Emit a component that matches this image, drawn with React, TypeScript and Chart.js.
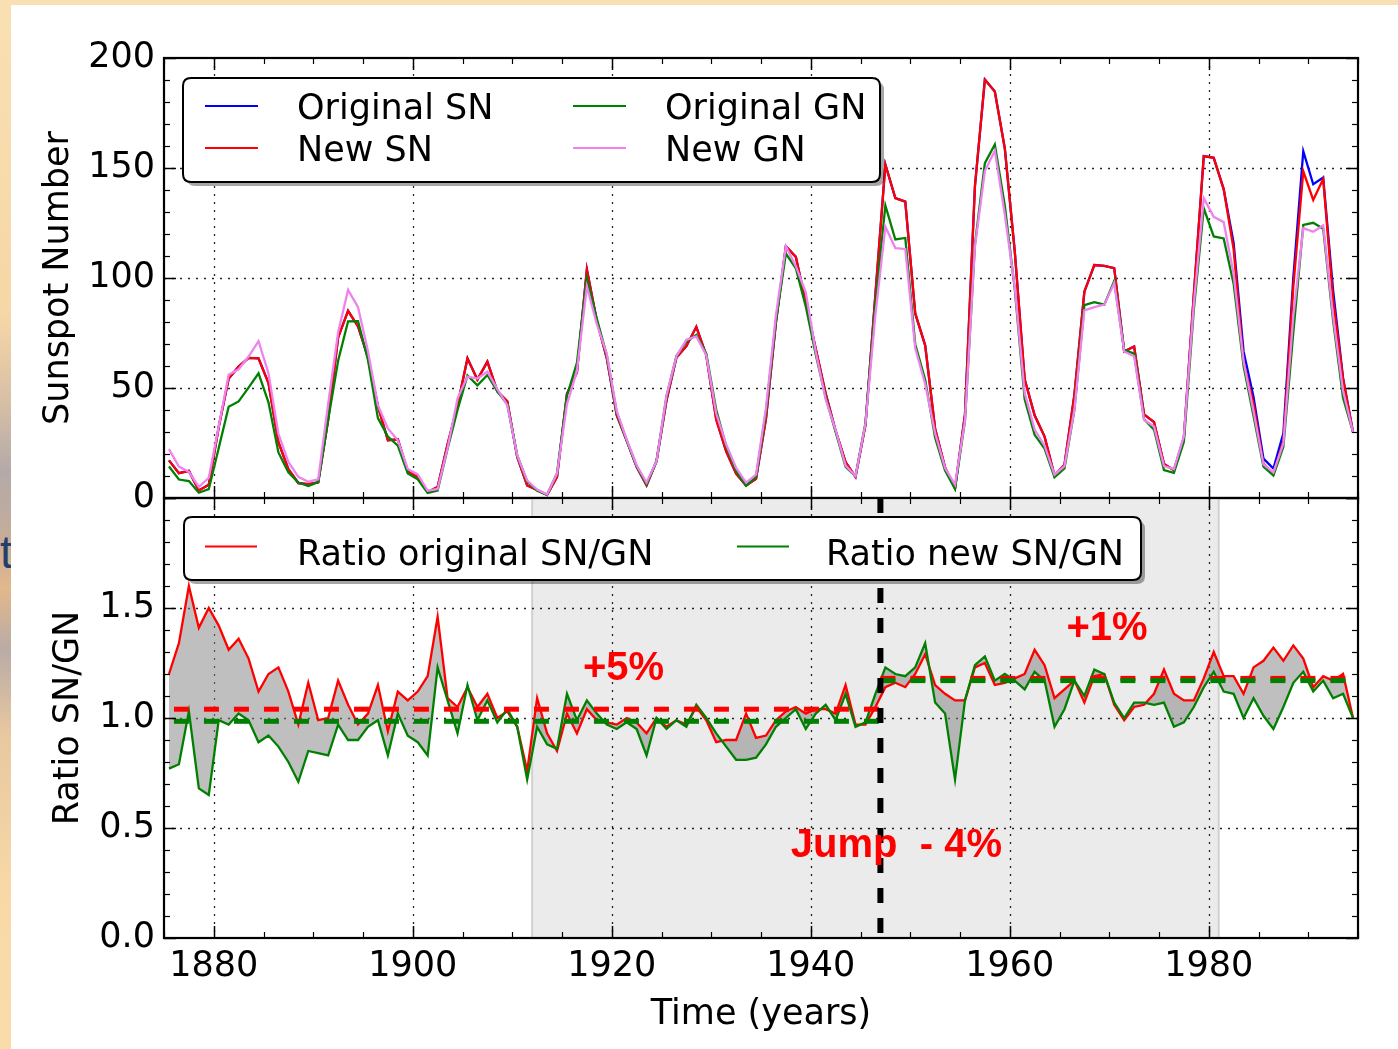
import React, { useEffect, useRef } from 'react';
import { Chart, registerables } from 'chart.js';

Chart.register(...registerables);

// ---------------- data ----------------
const YEARS = [
  1875.5, 1876.5, 1877.5, 1878.5, 1879.5, 1880.5, 1881.5, 1882.5, 1883.5, 1884.5,
  1885.5, 1886.5, 1887.5, 1888.5, 1889.5, 1890.5, 1891.5, 1892.5, 1893.5, 1894.5,
  1895.5, 1896.5, 1897.5, 1898.5, 1899.5, 1900.5, 1901.5, 1902.5, 1903.5, 1904.5,
  1905.5, 1906.5, 1907.5, 1908.5, 1909.5, 1910.5, 1911.5, 1912.5, 1913.5, 1914.5,
  1915.5, 1916.5, 1917.5, 1918.5, 1919.5, 1920.5, 1921.5, 1922.5, 1923.5, 1924.5,
  1925.5, 1926.5, 1927.5, 1928.5, 1929.5, 1930.5, 1931.5, 1932.5, 1933.5, 1934.5,
  1935.5, 1936.5, 1937.5, 1938.5, 1939.5, 1940.5, 1941.5, 1942.5, 1943.5, 1944.5,
  1945.5, 1946.5, 1947.5, 1948.5, 1949.5, 1950.5, 1951.5, 1952.5, 1953.5, 1954.5,
  1955.5, 1956.5, 1957.5, 1958.5, 1959.5, 1960.5, 1961.5, 1962.5, 1963.5, 1964.5,
  1965.5, 1966.5, 1967.5, 1968.5, 1969.5, 1970.5, 1971.5, 1972.5, 1973.5, 1974.5,
  1975.5, 1976.5, 1977.5, 1978.5, 1979.5, 1980.5, 1981.5, 1982.5, 1983.5, 1984.5,
  1985.5, 1986.5, 1987.5, 1988.5, 1989.5, 1990.5, 1991.5, 1992.5, 1993.5, 1994.5,
];

const SN_ORIGINAL = [
  17.1, 11.3, 12.3, 3.4, 6.0, 32.3, 54.3, 59.7, 63.7, 63.5,
  52.2, 25.4, 13.1, 6.8, 6.3, 7.1, 35.6, 73.0, 85.1, 78.0,
  64.0, 41.8, 26.2, 26.7, 12.1, 9.5, 2.7, 5.0, 24.4, 42.0,
  63.5, 53.8, 62.0, 48.5, 43.9, 18.6, 5.7, 3.6, 1.4, 9.6,
  47.4, 57.1, 103.9, 80.6, 63.6, 37.6, 26.1, 14.2, 5.8, 16.7,
  44.3, 63.9, 69.0, 77.8, 64.9, 35.7, 21.2, 11.1, 5.7, 8.7,
  36.1, 79.7, 114.4, 109.6, 88.8, 67.8, 47.5, 30.6, 16.3, 9.6,
  33.2, 92.6, 151.6, 136.3, 134.7, 83.9, 69.4, 31.5, 13.9, 4.4,
  38.0, 141.7, 190.2, 184.8, 159.0, 112.3, 53.9, 37.6, 27.9, 10.2,
  15.1, 47.0, 93.8, 105.9, 105.5, 104.5, 66.6, 68.9, 38.0, 34.5,
  15.5, 12.6, 27.5, 92.5, 155.4, 154.6, 140.4, 115.9, 66.6, 45.9,
  17.9, 13.4, 29.4, 100.2, 157.6, 142.6, 145.7, 94.3, 54.6, 29.9,
];

const SN_NEW = [
  17.1, 11.3, 12.3, 3.4, 6.0, 32.3, 54.3, 59.7, 63.7, 63.5,
  52.2, 25.4, 13.1, 6.8, 6.3, 7.1, 35.6, 73.0, 85.1, 78.0,
  64.0, 41.8, 26.2, 26.7, 12.1, 9.5, 2.7, 5.0, 24.4, 42.0,
  63.5, 53.8, 62.0, 48.5, 43.9, 18.6, 5.7, 3.6, 1.4, 9.6,
  47.4, 57.1, 103.9, 80.6, 63.6, 37.6, 26.1, 14.2, 5.8, 16.7,
  44.3, 63.9, 69.0, 77.8, 64.9, 35.7, 21.2, 11.1, 5.7, 8.7,
  36.1, 79.7, 114.4, 109.6, 88.8, 67.8, 47.5, 30.6, 16.3, 9.6,
  33.2, 92.6, 151.6, 136.3, 134.7, 83.9, 69.4, 31.5, 13.9, 4.4,
  38.0, 141.7, 190.2, 184.8, 159.0, 112.3, 53.9, 37.6, 27.9, 10.2,
  15.1, 47.0, 93.8, 105.9, 105.5, 104.5, 66.6, 68.9, 38.0, 34.5,
  15.5, 12.6, 27.5, 92.5, 155.4, 154.6, 140.4, 113.0, 62.0, 43.0,
  15.5, 11.0, 26.0, 96.0, 148.5, 135.5, 145.0, 90.0, 54.0, 29.9,
];

const GN_ORIGINAL = [
  14.3, 8.4, 7.7, 2.4, 4.0, 22.7, 41.5, 43.9, 50.2, 56.7,
  43.5, 20.7, 11.7, 7.0, 5.4, 7.2, 35.6, 62.4, 80.3, 80.4,
  62.7, 36.3, 27.9, 23.8, 11.2, 8.5, 2.3, 3.4, 22.4, 40.0,
  55.7, 51.2, 55.9, 48.5, 42.6, 19.4, 7.5, 3.3, 1.5, 11.3,
  46.5, 61.4, 99.9, 81.4, 64.9, 38.8, 26.1, 14.5, 6.2, 16.7,
  46.1, 64.5, 71.1, 74.1, 65.6, 40.1, 23.6, 12.3, 5.6, 9.6,
  39.2, 80.5, 111.1, 104.4, 87.1, 65.2, 45.7, 30.0, 14.2, 9.9,
  34.2, 88.2, 133.0, 117.5, 118.2, 69.9, 53.8, 27.4, 12.5, 4.1,
  35.2, 115.2, 152.2, 160.7, 133.0, 95.2, 44.9, 28.7, 22.5, 9.4,
  13.4, 40.2, 87.7, 89.0, 87.9, 98.6, 67.3, 65.6, 35.8, 31.1,
  12.7, 11.4, 25.5, 85.6, 131.7, 118.9, 118.0, 97.4, 60.0, 37.3,
  14.2, 10.2, 23.3, 75.3, 124.1, 125.1, 122.4, 80.6, 45.5, 29.9,
];

const GN_NEW = [
  22.2, 14.3, 11.9, 5.0, 9.2, 32.6, 56.0, 58.5, 64.3, 71.3,
  56.7, 29.2, 16.4, 9.6, 7.4, 8.5, 42.9, 75.3, 94.6, 86.7,
  66.7, 42.2, 31.6, 26.2, 13.2, 10.7, 3.3, 4.1, 22.6, 45.2,
  55.2, 54.3, 57.4, 49.5, 42.2, 19.4, 7.9, 3.8, 1.6, 11.2,
  42.7, 57.7, 96.2, 79.0, 65.6, 39.6, 26.6, 14.9, 7.0, 16.7,
  46.6, 64.5, 71.9, 73.4, 64.9, 38.4, 24.4, 13.7, 7.0, 10.6,
  41.0, 83.0, 114.4, 105.4, 93.5, 66.5, 44.8, 30.9, 14.7, 10.0,
  33.9, 83.4, 123.3, 113.6, 113.2, 68.2, 51.8, 29.4, 13.6, 6.1,
  35.2, 114.3, 148.6, 157.9, 129.0, 96.0, 47.7, 31.1, 23.8, 10.6,
  14.5, 40.2, 85.3, 86.8, 87.9, 97.7, 66.6, 64.4, 35.5, 32.5,
  14.5, 13.1, 28.1, 88.1, 136.3, 127.8, 125.4, 101.8, 62.0, 39.4,
  15.3, 11.6, 24.8, 82.8, 122.7, 121.0, 123.9, 82.6, 48.6, 29.9,
];

const RATIO_ORIGINAL = [
  1.20, 1.34, 1.60, 1.41, 1.50, 1.42, 1.31, 1.36, 1.27, 1.12,
  1.20, 1.23, 1.12, 0.97, 1.16, 0.99, 1.00, 1.17, 1.06, 0.97,
  1.02, 1.15, 0.94, 1.12, 1.08, 1.12, 1.19, 1.46, 1.09, 1.05,
  1.14, 1.05, 1.11, 1.00, 1.03, 0.96, 0.76, 1.09, 0.93, 0.85,
  1.02, 0.93, 1.04, 0.99, 0.98, 0.97, 1.00, 0.98, 0.93, 1.00,
  0.96, 0.99, 0.97, 1.05, 0.99, 0.89, 0.90, 0.90, 1.02, 0.91,
  0.92, 0.99, 1.03, 1.05, 1.02, 1.04, 1.04, 1.02, 1.15, 0.97,
  0.97, 1.05, 1.14, 1.16, 1.14, 1.20, 1.29, 1.15, 1.11, 1.08,
  1.08, 1.23, 1.25, 1.15, 1.16, 1.18, 1.20, 1.31, 1.24, 1.09,
  1.13, 1.17, 1.07, 1.19, 1.20, 1.06, 0.99, 1.05, 1.06, 1.11,
  1.22, 1.11, 1.08, 1.08, 1.18, 1.30, 1.19, 1.19, 1.11, 1.23,
  1.26, 1.32, 1.26, 1.33, 1.27, 1.14, 1.19, 1.17, 1.20, 1.00,
];

const RATIO_NEW = [
  0.77, 0.79, 1.03, 0.68, 0.65, 0.99, 0.97, 1.02, 0.99, 0.89,
  0.92, 0.87, 0.80, 0.71, 0.85, 0.84, 0.83, 0.97, 0.90, 0.90,
  0.96, 0.99, 0.83, 1.02, 0.92, 0.89, 0.83, 1.23, 1.08, 0.93,
  1.15, 0.99, 1.08, 0.98, 1.04, 0.96, 0.72, 0.96, 0.88, 0.86,
  1.11, 0.99, 1.08, 1.02, 0.97, 0.95, 0.98, 0.95, 0.83, 1.00,
  0.95, 0.99, 0.96, 1.06, 1.00, 0.93, 0.87, 0.81, 0.81, 0.82,
  0.88, 0.96, 1.00, 1.04, 0.95, 1.02, 1.06, 0.99, 1.11, 0.96,
  0.98, 1.11, 1.23, 1.20, 1.19, 1.23, 1.34, 1.07, 1.02, 0.72,
  1.08, 1.24, 1.28, 1.17, 1.20, 1.17, 1.13, 1.21, 1.17, 0.96,
  1.04, 1.17, 1.10, 1.22, 1.20, 1.07, 1.00, 1.07, 1.07, 1.06,
  1.07, 0.96, 0.98, 1.05, 1.14, 1.21, 1.12, 1.11, 1.00, 1.09,
  1.01, 0.95, 1.05, 1.16, 1.21, 1.12, 1.17, 1.09, 1.11, 1.00,
];

// period boundaries of the mean levels and the means themselves
const MEAN_BREAKS = [1876, 1947, 1995];
const MEAN_RATIO_ORIGINAL = [1.04, 1.18];
const MEAN_RATIO_NEW = [0.985, 1.17];
const JUMP_YEAR = 1947;
const SHADE_RANGE = [1912, 1981];
const X_RANGE = [1875, 1995];
const SN_RANGE = [0, 200];
const RATIO_RANGE = [0, 2];
const X_TICKS = [1880, 1900, 1920, 1940, 1960, 1980];
const SN_TICKS = [0, 50, 100, 150, 200];
const RATIO_TICKS = [0, 0.5, 1.0, 1.5, 2.0];
const SN_GRID = [50, 100, 150];
const RATIO_GRID = [0.5, 1.0, 1.5];
const TOP_LEGEND = [
  { label: 'Original SN', color: '#0000ff', col: 0, row: 0 },
  { label: 'New SN', color: '#ff0000', col: 0, row: 1 },
  { label: 'Original GN', color: '#008000', col: 1, row: 0 },
  { label: 'New GN', color: '#ee82ee', col: 1, row: 1 },
];
const BOTTOM_LEGEND = [
  { label: 'Ratio original SN/GN', color: '#ff0000', col: 0 },
  { label: 'Ratio new SN/GN', color: '#008000', col: 1 },
];
const ANNOTATIONS = [
  { text: '+5%', x: 1917.1, y: 1.175 },
  { text: '+1%', x: 1965.7, y: 1.355 },
  { text: 'Jump  - 4%', x: 1938.0, y: 0.368 },
];

// ---------------- helpers ----------------
const FONT = '"DejaVu Sans", sans-serif';
const pts = (vals: number[]) => YEARS.map((x, i) => ({ x, y: vals[i] }));

function roundRectPath(ctx: CanvasRenderingContext2D, x: number, y: number, w: number, h: number, r: number) {
  ctx.beginPath();
  ctx.moveTo(x + r, y);
  ctx.lineTo(x + w - r, y);
  ctx.quadraticCurveTo(x + w, y, x + w, y + r);
  ctx.lineTo(x + w, y + h - r);
  ctx.quadraticCurveTo(x + w, y + h, x + w - r, y + h);
  ctx.lineTo(x + r, y + h);
  ctx.quadraticCurveTo(x, y + h, x, y + h - r);
  ctx.lineTo(x, y + r);
  ctx.quadraticCurveTo(x, y, x + r, y);
  ctx.closePath();
}

function drawLegendFrame(ctx: CanvasRenderingContext2D, x: number, y: number, w: number, h: number) {
  ctx.save();
  ctx.fillStyle = 'rgba(0,0,0,0.35)';
  roundRectPath(ctx, x + 4, y + 4, w, h, 8);
  ctx.fill();
  ctx.fillStyle = '#ffffff';
  roundRectPath(ctx, x, y, w, h, 8);
  ctx.fill();
  ctx.lineWidth = 2;
  ctx.strokeStyle = '#000';
  ctx.stroke();
  ctx.restore();
}

function hLine(ctx: CanvasRenderingContext2D, x0: number, x1: number, y: number) {
  ctx.beginPath();
  ctx.moveTo(x0, y);
  ctx.lineTo(x1, y);
  ctx.stroke();
}
function vLine(ctx: CanvasRenderingContext2D, x: number, y0: number, y1: number) {
  ctx.beginPath();
  ctx.moveTo(x, y0);
  ctx.lineTo(x, y1);
  ctx.stroke();
}

type DecorCfg = {
  yGrid: number[];
  yMinorStep: number;
  yMajorEvery: number;
  yMax: number;
  shade?: number[];
};

function makeDecor(id: string, cfg: DecorCfg, afterDraw: (chart: any) => void) {
  return {
    id,
    beforeDatasetsDraw(chart: any) {
      const { ctx, chartArea: a, scales } = chart;
      const xs = scales.x;
      const ys = scales.y;
      ctx.save();
      if (cfg.shade) {
        const x0 = xs.getPixelForValue(cfg.shade[0]);
        const x1 = xs.getPixelForValue(cfg.shade[1]);
        ctx.fillStyle = '#ebebeb';
        ctx.fillRect(x0, a.top, x1 - x0, a.bottom - a.top);
        ctx.strokeStyle = '#d0d0d0';
        ctx.lineWidth = 2;
        vLine(ctx, x0, a.top, a.bottom);
        vLine(ctx, x1, a.top, a.bottom);
      }
      ctx.strokeStyle = 'rgba(0,0,0,0.85)';
      ctx.lineWidth = 1.3;
      ctx.setLineDash([2, 6]);
      X_TICKS.forEach((v) => {
        const px = Math.round(xs.getPixelForValue(v)) + 0.5;
        vLine(ctx, px, a.top, a.bottom);
      });
      cfg.yGrid.forEach((v) => {
        const py = Math.round(ys.getPixelForValue(v)) + 0.5;
        hLine(ctx, a.left, a.right, py);
      });
      ctx.restore();
    },
    afterDatasetsDraw(chart: any) {
      const { ctx, chartArea: a, scales } = chart;
      const xs = scales.x;
      const ys = scales.y;
      ctx.save();
      ctx.strokeStyle = '#000';
      ctx.setLineDash([]);
      for (let v = X_RANGE[0]; v <= X_RANGE[1]; v += 5) {
        const major = v % 20 === 0;
        const len = major ? 12 : 6;
        ctx.lineWidth = major ? 1.5 : 1.2;
        const px = Math.round(xs.getPixelForValue(v)) + 0.5;
        vLine(ctx, px, a.bottom, a.bottom - len);
        vLine(ctx, px, a.top, a.top + len);
      }
      const n = Math.round(cfg.yMax / cfg.yMinorStep);
      for (let i = 0; i <= n; i++) {
        const v = i * cfg.yMinorStep;
        const major = i % cfg.yMajorEvery === 0;
        const len = major ? 12 : 6;
        ctx.lineWidth = major ? 1.5 : 1.2;
        const py = Math.round(ys.getPixelForValue(v)) + 0.5;
        hLine(ctx, a.left, a.left + len, py);
        hLine(ctx, a.right, a.right - len, py);
      }
      ctx.lineWidth = 2.2;
      ctx.strokeRect(a.left, a.top, a.right - a.left, a.bottom - a.top);
      ctx.restore();
    },
    afterDraw,
  };
}

const tickFont = { family: FONT, size: 35 };

const fixY = (s: any) => {
  s.width = 164;
  s.paddingTop = 0;
  s.paddingBottom = 0;
};

function topConfig(): any {
  const decor = makeDecor(
    'topDecor',
    { yGrid: SN_GRID, yMinorStep: 10, yMajorEvery: 5, yMax: SN_RANGE[1] },
    (chart: any) => {
      const { ctx, chartArea: a } = chart;
      const bx = a.left + 19;
      const by = a.top + 20;
      drawLegendFrame(ctx, bx, by, 697, 104);
      ctx.save();
      ctx.font = `35px ${FONT}`;
      ctx.textBaseline = 'alphabetic';
      ctx.textAlign = 'left';
      TOP_LEGEND.forEach((e) => {
        const lx = bx + 22 + e.col * 368;
        const ly = by + 28 + e.row * 42;
        ctx.strokeStyle = e.color;
        ctx.lineWidth = 2;
        hLine(ctx, lx, lx + 53, ly);
        ctx.fillStyle = '#000';
        ctx.fillText(e.label, lx + 92, ly + 13);
      });
      ctx.restore();
    }
  );
  return {
    type: 'line',
    data: {
      datasets: [
        { label: 'Original SN', data: pts(SN_ORIGINAL), borderColor: '#0000ff', order: 3 },
        { label: 'New SN', data: pts(SN_NEW), borderColor: '#ff0000', order: 2 },
        { label: 'Original GN', data: pts(GN_ORIGINAL), borderColor: '#008000', order: 1 },
        { label: 'New GN', data: pts(GN_NEW), borderColor: '#ee82ee', order: 0 },
      ],
    },
    options: {
      responsive: false,
      animation: false,
      devicePixelRatio: 1,
      layout: { autoPadding: false, padding: { top: 58, bottom: 22, left: 0, right: 40 } },
      elements: {
        point: { radius: 0, hoverRadius: 0 },
        line: { borderWidth: 2.3, tension: 0, fill: false },
      },
      plugins: { legend: { display: false }, tooltip: { enabled: false } },
      events: [],
      scales: {
        x: { type: 'linear', min: X_RANGE[0], max: X_RANGE[1], display: false },
        y: {
          type: 'linear',
          min: SN_RANGE[0],
          max: SN_RANGE[1],
          afterBuildTicks: (s: any) => {
            s.ticks = SN_TICKS.map((value) => ({ value }));
          },
          ticks: { padding: 9, font: tickFont, color: '#000', callback: (v: number) => String(v) },
          grid: { display: false, drawTicks: false },
          border: { display: false },
          title: {
            display: true,
            text: 'Sunspot Number',
            font: tickFont,
            color: '#000',
            padding: { top: 38, bottom: 0 },
          },
          afterFit: fixY,
        },
      },
    },
    plugins: [decor],
  };
}

function bottomConfig(): any {
  const decor = makeDecor(
    'bottomDecor',
    { yGrid: RATIO_GRID, yMinorStep: 0.1, yMajorEvery: 5, yMax: RATIO_RANGE[1], shade: SHADE_RANGE },
    (chart: any) => {
      const { ctx, chartArea: a, scales } = chart;
      const bx = a.left + 20;
      const by = a.top + 19;
      drawLegendFrame(ctx, bx, by, 957, 63);
      ctx.save();
      ctx.font = `35px ${FONT}`;
      ctx.textBaseline = 'alphabetic';
      ctx.textAlign = 'left';
      BOTTOM_LEGEND.forEach((e) => {
        const lx = bx + 21 + e.col * 532;
        const ly = by + 29.5;
        ctx.strokeStyle = e.color;
        ctx.lineWidth = 2;
        hLine(ctx, lx, lx + 52, ly);
        ctx.fillStyle = '#000';
        ctx.fillText(e.label, lx + 92 - e.col * 3, ly + 18.5);
      });
      ctx.font = 'bold 40px "Liberation Sans", Arial, sans-serif';
      ctx.fillStyle = '#ff0000';
      ANNOTATIONS.forEach((t) => {
        ctx.fillText(t.text, scales.x.getPixelForValue(t.x), scales.y.getPixelForValue(t.y));
      });
      ctx.restore();
    }
  );
  const seg = (x0: number, x1: number, y: number) => [
    { x: x0, y },
    { x: x1, y },
  ];
  const dashed = (data: any[], color: string, width: number, order: number) => ({
    data,
    borderColor: color,
    borderWidth: width,
    borderDash: [15, 15],
    fill: false,
    order,
  });
  return {
    type: 'line',
    data: {
      datasets: [
        {
          label: 'Ratio original SN/GN',
          data: pts(RATIO_ORIGINAL),
          borderColor: '#ff0000',
          borderWidth: 2.3,
          backgroundColor: 'rgba(128,128,128,0.5)',
          fill: '+1',
          order: 6,
        },
        {
          label: 'Ratio new SN/GN',
          data: pts(RATIO_NEW),
          borderColor: '#008000',
          borderWidth: 2.3,
          fill: false,
          order: 5,
        },
        dashed(seg(MEAN_BREAKS[0], MEAN_BREAKS[1], MEAN_RATIO_ORIGINAL[0]), '#ff0000', 5, 4),
        dashed(seg(MEAN_BREAKS[1], MEAN_BREAKS[2], MEAN_RATIO_ORIGINAL[1]), '#ff0000', 5, 3),
        dashed(seg(MEAN_BREAKS[0], MEAN_BREAKS[1], MEAN_RATIO_NEW[0]), '#008000', 5, 2),
        dashed(seg(MEAN_BREAKS[1], MEAN_BREAKS[2], MEAN_RATIO_NEW[1]), '#008000', 5, 1),
        dashed(
          [
            { x: JUMP_YEAR, y: RATIO_RANGE[1] },
            { x: JUMP_YEAR, y: RATIO_RANGE[0] },
          ],
          '#000000',
          6,
          0
        ),
      ],
    },
    options: {
      responsive: false,
      animation: false,
      devicePixelRatio: 1,
      layout: { autoPadding: false, padding: { top: 8, bottom: 0, left: 0, right: 40 } },
      elements: {
        point: { radius: 0, hoverRadius: 0 },
        line: { tension: 0 },
      },
      plugins: { legend: { display: false }, tooltip: { enabled: false }, filler: { propagate: false } },
      events: [],
      scales: {
        x: {
          type: 'linear',
          position: 'bottom',
          min: X_RANGE[0],
          max: X_RANGE[1],
          afterBuildTicks: (s: any) => {
            s.ticks = X_TICKS.map((value) => ({ value }));
          },
          ticks: {
            autoSkip: false,
            maxRotation: 0,
            minRotation: 0,
            padding: 8,
            font: tickFont,
            color: '#000',
            callback: (v: number) => String(v),
          },
          grid: { display: false, drawTicks: false },
          border: { display: false },
          title: {
            display: true,
            text: 'Time (years)',
            font: tickFont,
            color: '#000',
            padding: { top: 0, bottom: 13 },
          },
          afterFit: (s: any) => {
            s.height = 111;
            s.paddingLeft = 0;
            s.paddingRight = 0;
          },
        },
        y: {
          type: 'linear',
          min: RATIO_RANGE[0],
          max: RATIO_RANGE[1],
          afterBuildTicks: (s: any) => {
            s.ticks = RATIO_TICKS.map((value) => ({ value }));
          },
          ticks: {
            padding: 9,
            font: tickFont,
            color: '#000',
            callback: (v: number) => (v >= 1.99 ? '' : Number(v).toFixed(1)),
          },
          grid: { display: false, drawTicks: false },
          border: { display: false },
          title: {
            display: true,
            text: 'Ratio SN/GN',
            font: tickFont,
            color: '#000',
            padding: { top: 48, bottom: 0 },
          },
          afterFit: fixY,
        },
      },
    },
    plugins: [decor],
  };
}

export default function App() {
  const topRef = useRef<HTMLCanvasElement>(null);
  const botRef = useRef<HTMLCanvasElement>(null);

  useEffect(() => {
    const top = new Chart(topRef.current as HTMLCanvasElement, topConfig());
    const bot = new Chart(botRef.current as HTMLCanvasElement, bottomConfig());
    return () => {
      top.destroy();
      bot.destroy();
    };
  }, []);

  return (
    <div
      style={{
        position: 'absolute',
        left: 0,
        top: 0,
        width: 1398,
        height: 1049,
        overflow: 'hidden',
        background:
          'linear-gradient(180deg, #f9e0b2 0%, #f6d7a6 30%, #d9c0a6 38%, #b3aaa8 45%, #c7ad98 52%, #e2b88c 56%, #b9aba6 62%, #e8c8a0 70%, #f8d9a6 85%, #f9dcaa 100%)',
      }}
    >
      <span
        style={{
          position: 'absolute',
          left: 0,
          top: 525,
          font: '46px "Liberation Sans", Arial, sans-serif',
          color: '#24406a',
        }}
      >
        t
      </span>
      <div style={{ position: 'absolute', left: 11, top: 5, right: 0, bottom: 0, background: '#ffffff' }} />
      <canvas
        ref={topRef}
        width={1398}
        height={520}
        style={{ position: 'absolute', left: 0, top: 0, width: 1398, height: 520 }}
      />
      <canvas
        ref={botRef}
        width={1398}
        height={559}
        style={{ position: 'absolute', left: 0, top: 490, width: 1398, height: 559 }}
      />
    </div>
  );
}
